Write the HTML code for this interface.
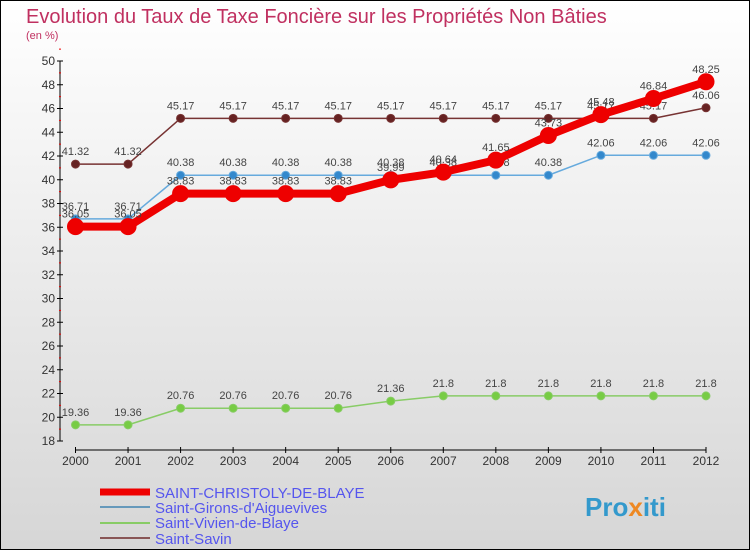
<!DOCTYPE html>
<html><head><meta charset="utf-8"><style>
body{margin:0}
#c{width:750px;height:550px;position:relative;overflow:hidden}
svg text{font-family:"Liberation Sans",sans-serif}
</style></head><body>
<div id="c">
<svg id="s" width="750" height="550" xmlns="http://www.w3.org/2000/svg">
<defs><linearGradient id="bg" x1="0" y1="0" x2="0" y2="1"><stop offset="0" stop-color="#ffffff"/><stop offset="1" stop-color="#d6d6d6"/></linearGradient></defs>
<rect x="0.5" y="0.5" width="749" height="549" fill="url(#bg)" stroke="#000"/>
<text x="26" y="23" font-size="20" fill="#c03060">Evolution du Taux de Taxe Foncière sur les Propriétés Non Bâties</text>
<text x="26" y="39" font-size="11" fill="#c03060">(en %)</text>
<g id="axes"></g><g id="series"></g>
<g>
<line x1="100" y1="492" x2="150" y2="492" stroke="#ee0000" stroke-width="7"/>
<text x="155" y="498" font-size="15" fill="#5555ee">SAINT-CHRISTOLY-DE-BLAYE</text>
<line x1="100" y1="507" x2="150" y2="507" stroke="#6699bb" stroke-width="2"/>
<text x="155" y="513" font-size="15" fill="#5555ee">Saint-Girons-d'Aiguevives</text>
<line x1="100" y1="523" x2="150" y2="523" stroke="#88cc66" stroke-width="2"/>
<text x="155" y="528" font-size="15" fill="#5555ee">Saint-Vivien-de-Blaye</text>
<line x1="100" y1="538" x2="150" y2="538" stroke="#885555" stroke-width="2"/>
<text x="155" y="544" font-size="15" fill="#5555ee">Saint-Savin</text>
</g>
<text x="585" y="516" font-size="26" font-weight="bold" fill="#3399cc">Pro<tspan fill="#ee8822">x</tspan>iti</text>
</svg></div>
<script>
const years=[2000,2001,2002,2003,2004,2005,2006,2007,2008,2009,2010,2011,2012];
const yTicks=[18,20,22,24,26,28,30,32,34,36,38,40,42,44,46,48,50];
const christoly=[36.05,36.05,38.83,38.83,38.83,38.83,39.99,40.64,41.65,43.73,45.48,46.84,48.25];
const girons=[36.71,36.71,40.38,40.38,40.38,40.38,40.38,40.38,40.38,40.38,42.06,42.06,42.06];
const vivien=[19.36,19.36,20.76,20.76,20.76,20.76,21.36,21.8,21.8,21.8,21.8,21.8,21.8];
const savin=[41.32,41.32,45.17,45.17,45.17,45.17,45.17,45.17,45.17,45.17,45.17,45.17,46.06];
const NS="http://www.w3.org/2000/svg";
function X(i){return 75.5+i*(706-75.5)/(years.length-1);}
function Y(v){return 441-(v-18)*(380/32);}
function mk(t,a,p){const e=document.createElementNS(NS,t);for(const k in a)e.setAttribute(k,a[k]);p.appendChild(e);return e;}
const ax=document.getElementById('axes');
const yl=mk('line',{x1:60,y1:Y(50),x2:60,y2:Y(18),stroke:'#000'},ax);


yTicks.forEach(v=>{
 mk('line',{x1:57,x2:63,y1:Y(v),y2:Y(v),stroke:'#000'},ax);
 mk('line',{x1:59,x2:61,y1:Y(v+1),y2:Y(v+1),stroke:'#e00'},ax);
 const t=mk('text',{x:55,y:Y(v)+4,'font-size':12,'text-anchor':'end',fill:'#333'},ax);t.textContent=v;
 
 
});
const xl=mk('line',{x1:X(0),y1:450,x2:X(12),y2:450,stroke:'#000'},ax);


years.forEach((y,i)=>{
 mk('line',{x1:X(i),x2:X(i),y1:447,y2:453,stroke:'#000'},ax);
 const t=mk('text',{x:X(i),y:465,'font-size':12,'text-anchor':'middle',fill:'#333'},ax);t.textContent=y;
 
 
});
const sg=document.getElementById('series');
function draw(data,color,lw,r,name,dot){
 const g=mk('g',{},sg);
 
 
 mk('polyline',{points:data.map((v,i)=>X(i)+','+Y(v)).join(' '),fill:'none',stroke:color,'stroke-width':lw,'stroke-linejoin':'round'},g);
 data.forEach((v,i)=>{
  const c=mk('circle',{cx:X(i),cy:Y(v),r:r,fill:dot,stroke:color,'stroke-width':1},g);
  
  
  const t=mk('text',{x:X(i),y:Y(v)-9,'font-size':11,'text-anchor':'middle',fill:'#444'},g);t.textContent=v;
  
  
 });
}
draw(savin,'#773333',1.5,4,'saint-savin','#662222');
draw(vivien,'#88cc66',1.5,4,'saint-vivien','#77cc44');
draw(girons,'#66aadd',1.5,4,'saint-girons','#3388cc');
draw(christoly,'#ee0000',8,8,'saint-christoly','#ee0000');
</script>
</body></html>
